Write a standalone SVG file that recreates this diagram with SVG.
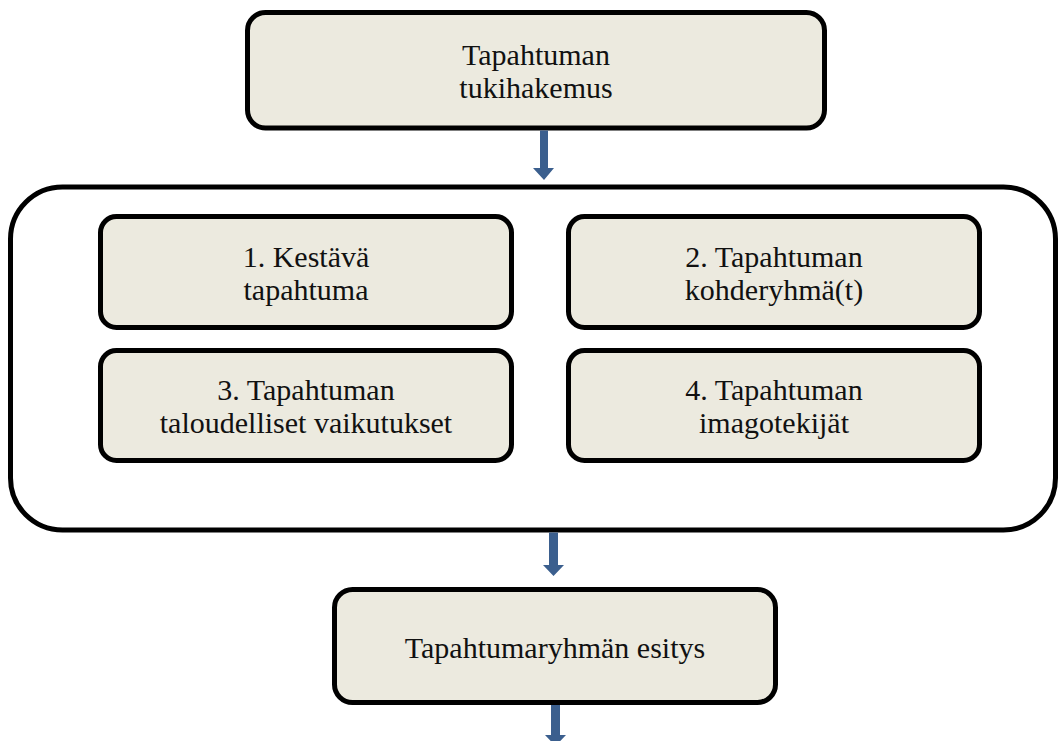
<svg xmlns="http://www.w3.org/2000/svg" width="1058" height="741" viewBox="0 0 1058 741">
<style>
.box{fill:#ECEADF;stroke:#000;stroke-width:5}
.outer{fill:#fff;stroke:#000;stroke-width:5}
.t{font-family:"Liberation Serif","Times New Roman",serif;font-size:30px;fill:#111;text-anchor:middle}
.arr{fill:#3B5F8E}
</style>
<rect width="1058" height="741" fill="#fff"/>
<g id="container">
<rect class="outer" x="10.5" y="187" width="1045" height="343" rx="52"/>
</g>
<g id="n-top">
<rect class="box" x="247.5" y="12.5" width="577" height="115.5" rx="18"/>
<text class="t" x="536" y="65">Tapahtuman</text>
<text class="t" x="536" y="98">tukihakemus</text>
</g>
<g id="n1">
<rect class="box" x="100.5" y="216.5" width="411" height="111" rx="16"/>
<text class="t" x="306" y="267">1. Kestävä</text>
<text class="t" x="306" y="300">tapahtuma</text>
</g>
<g id="n2">
<rect class="box" x="568.5" y="216.5" width="411" height="111" rx="16"/>
<text class="t" x="774" y="267">2. Tapahtuman</text>
<text class="t" x="774" y="300">kohderyhmä(t)</text>
</g>
<g id="n3">
<rect class="box" x="100.5" y="350.5" width="411" height="110" rx="16"/>
<text class="t" x="306" y="400">3. Tapahtuman</text>
<text class="t" x="306" y="433">taloudelliset vaikutukset</text>
</g>
<g id="n4">
<rect class="box" x="568.5" y="350.5" width="411" height="110" rx="16"/>
<text class="t" x="774" y="400">4. Tapahtuman</text>
<text class="t" x="774" y="433">imagotekijät</text>
</g>
<g id="n-bottom">
<rect class="box" x="334.5" y="589.5" width="441" height="113" rx="18"/>
<text class="t" x="555" y="658">Tapahtumaryhmän esitys</text>
</g>
<g id="connectors">
<polygon class="arr" points="540,130.5 548,130.5 548,168 554,168 544,180 533,168 540,168"/>
<polygon class="arr" points="549,532.5 558,532.5 558,565 564,565 553.5,576 543,565 549,565"/>
<polygon class="arr" points="551,705 560,705 560,735 566,735 555.5,746 545,735 551,735"/>
</g>
</svg>
